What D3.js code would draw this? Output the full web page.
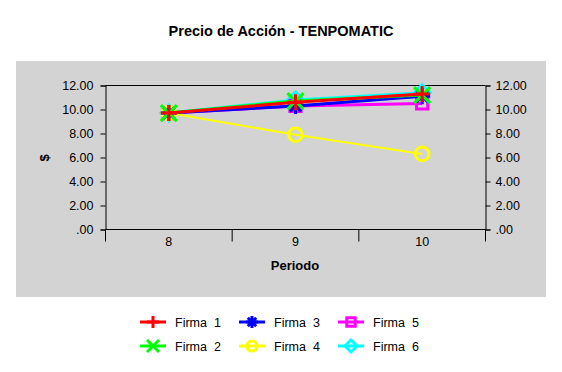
<!DOCTYPE html>
<html>
<head>
<meta charset="utf-8">
<script src="https://cdn.jsdelivr.net/npm/d3@7"></script>
<style>
	body { margin: 0; background: #fff; }
	text { font-family: "Liberation Sans", Arial, sans-serif; fill: #000; }
</style>
</head>
<body>
<div id="app"></div>
<script>
// chart data
const periods = ['8', '9', '10'];
const seriesNames = ['Firma  1', 'Firma  2', 'Firma  3', 'Firma  4', 'Firma  5', 'Firma  6'];
const firma1 = [9.7, 10.6, 11.3];
const firma2 = [9.7, 10.7, 11.2];
const firma3 = [9.7, 10.3, 11.1];
const firma4 = [9.7, 7.9, 6.3];
const firma5 = [9.7, 10.3, 10.5];
const firma6 = [9.7, 10.8, 11.4];
const yTicks = [0, 2, 4, 6, 8, 10, 12];

const colors = ['#ff0000', '#00ff00', '#0000ff', '#ffff00', '#ff00ff', '#00ffff'];
const markers = ['plus', 'x', 'star', 'circle', 'square', 'diamond'];
const series = [firma1, firma2, firma3, firma4, firma5, firma6].map((values, i) => ({
	name: seriesNames[i],
	values,
	color: colors[i],
	marker: markers[i]
}));

const width = 562, height = 372;

const svg = d3.select('#app').append('svg')
	.attr('width', width)
	.attr('height', height);

// grey plot background
svg.append('rect')
	.attr('x', 16).attr('y', 61)
	.attr('width', 530).attr('height', 236)
	.attr('fill', '#d3d3d3');

svg.append('text')
	.attr('x', 281).attr('y', 36)
	.attr('text-anchor', 'middle')
	.style('font-size', '14.5px')
	.style('font-weight', 'bold')
	.text('Precio de Acción - TENPOMATIC');

const x = d3.scaleBand()
	.domain(periods)
	.range([105.5, 485.5]);

const y = d3.scaleLinear()
	.domain([0, 12])
	.range([229.5, 85.5]);

const fmt = d => d === 0 ? '.00' : d3.format('.2f')(d);

const yAxisL = d3.axisLeft(y).tickValues(yTicks).tickFormat(fmt).tickSizeOuter(0).tickSize(5).tickPadding(7);
const yAxisR = d3.axisRight(y).tickValues(yTicks).tickFormat(fmt).tickSizeOuter(0).tickSize(5).tickPadding(5);

const styleAxis = g => {
	g.selectAll('path, line').attr('stroke', '#000');
	g.selectAll('text').style('font-size', '12.5px').attr('fill', '#000')
		.style('font-family', '"Liberation Sans", Arial, sans-serif');
};

svg.append('g').attr('transform', 'translate(105.5,0)').call(yAxisL).call(styleAxis);
svg.append('g').attr('transform', 'translate(485.5,0)').call(yAxisR).call(styleAxis);

// top border
svg.append('line')
	.attr('x1', 105.5).attr('x2', 485.5)
	.attr('y1', 85.5).attr('y2', 85.5)
	.attr('stroke', '#000');

const xAxis = d3.axisBottom(x).tickSize(0).tickSizeOuter(0).tickPadding(8);
const gx = svg.append('g').attr('transform', 'translate(0,229.5)').call(xAxis).call(styleAxis);
gx.select('.domain').attr('d', `M105.5,0H485.5`);

// category separator ticks at band edges
const edges = periods.map(p => x(p)).concat([x.range()[1]]);
gx.selectAll('.edge')
	.data(edges)
	.enter().append('line')
	.attr('x1', d => d).attr('x2', d => d)
	.attr('y1', 0).attr('y2', 12)
	.attr('stroke', '#000');

svg.append('text')
	.attr('x', 295).attr('y', 270)
	.attr('text-anchor', 'middle')
	.style('font-size', '13px')
	.style('font-weight', 'bold')
	.text('Periodo');

svg.append('text')
	.attr('transform', 'translate(49,158) rotate(-90)')
	.attr('text-anchor', 'middle')
	.style('font-size', '13px')
	.style('font-weight', 'bold')
	.text('$');

const markerPath = (type, s) => {
	switch (type) {
		case 'plus': return `M${-s},0H${s}M0,${-s}V${s}`;
		case 'x': return `M${-s},${-s}L${s},${s}M${-s},${s}L${s},${-s}`;
		case 'star': return `M${-s},0H${s}M0,${-s}V${s}M${-s * 0.7},${-s * 0.7}L${s * 0.7},${s * 0.7}M${-s * 0.7},${s * 0.7}L${s * 0.7},${-s * 0.7}`;
		case 'circle': return d3.arc()({ innerRadius: 0, outerRadius: s * 0.85, startAngle: 0, endAngle: 2 * Math.PI });
		case 'square': { const h = s * 0.7; return `M${-h},${-h}H${h}V${h}H${-h}Z`; }
		case 'diamond': return `M0,${-s}L${s},0L0,${s}L${-s},0Z`;
	}
};

const line = d3.line()
	.x((d, i) => x(periods[i]) + x.bandwidth() / 2)
	.y(d => y(d));

// draw last series first so Firma 1 ends on top
const plot = svg.append('g');
series.slice().reverse().forEach(s => {
	const g = plot.append('g');
	g.append('path')
		.attr('d', line(s.values))
		.attr('fill', 'none')
		.attr('stroke', s.color)
		.attr('stroke-width', s.marker === 'circle' ? 2 : 3);
	g.selectAll('.m')
		.data(s.values)
		.enter().append('path')
		.attr('transform', (d, i) => `translate(${x(periods[i]) + x.bandwidth() / 2},${y(d)})`)
		.attr('d', markerPath(s.marker, 8))
		.attr('fill', 'none')
		.attr('stroke', s.color)
		.attr('stroke-width', 3);
});

// legend
const legendPos = [[140, 322], [140, 346], [239, 322], [239, 346], [338, 322], [338, 346]];
const legend = svg.append('g');
series.forEach((s, i) => {
	const [lx, ly] = legendPos[i];
	const g = legend.append('g').attr('transform', `translate(${lx},${ly})`);
	g.append('line')
		.attr('x1', 0).attr('x2', 26)
		.attr('stroke', s.color)
		.attr('stroke-width', 3);
	g.append('path')
		.attr('transform', 'translate(13,0)')
		.attr('d', markerPath(s.marker, 6))
		.attr('fill', 'none')
		.attr('stroke', s.color)
		.attr('stroke-width', 3);
	g.append('text')
		.attr('x', 35).attr('y', 4.5)
		.style('font-size', '12.5px')
		.style('white-space', 'pre')
		.attr('xml:space', 'preserve')
		.text(s.name);
});
</script>
</body>
</html>
